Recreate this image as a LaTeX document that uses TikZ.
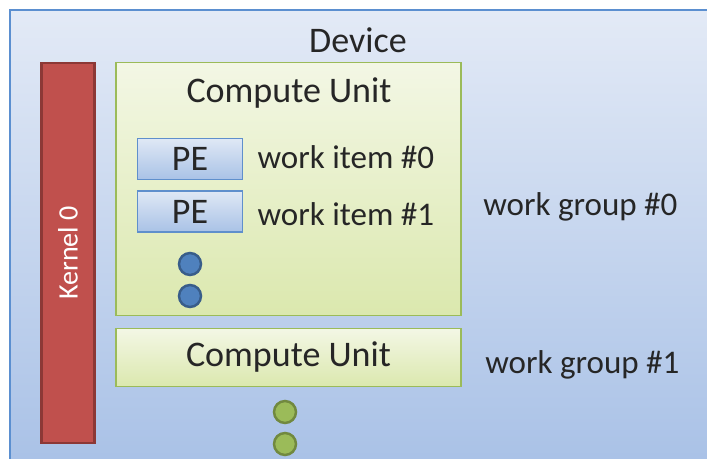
\documentclass[tikz,border=0pt]{standalone}
\usepackage{fontspec}
\setmainfont{Carlito}
\usetikzlibrary{positioning}
\definecolor{devtop}{HTML}{E3EAF6}
\definecolor{devbot}{HTML}{A7C0E6}
\definecolor{devline}{HTML}{5B8FD0}
\definecolor{kernelfill}{HTML}{C0504D}
\definecolor{kernelline}{HTML}{8C3836}
\definecolor{cutop}{HTML}{F3F7E5}
\definecolor{cubot}{HTML}{DBE8AE}
\definecolor{culine}{HTML}{9BBB59}
\definecolor{petop}{HTML}{DFE8F5}
\definecolor{pebot}{HTML}{A9C2E6}
\definecolor{peline}{HTML}{5F8FCC}
\definecolor{dotblue}{HTML}{4F81BD}
\definecolor{dotblueline}{HTML}{385D8A}
\definecolor{dotgreen}{HTML}{9BBB59}
\definecolor{dotgreenline}{HTML}{71893F}
\definecolor{ink}{HTML}{262626}

\begin{document}
\begin{tikzpicture}[x=0.02cm,y=-0.02cm,text=ink,
 big/.style={font=\fontsize{20.5}{24}\selectfont,inner sep=0pt},
 small/.style={font=\fontsize{18.8}{22}\selectfont,inner sep=0pt},
 kernel/.style={draw=kernelline,fill=kernelfill,line width=1.6pt,text=white,
   font=\fontsize{16}{19}\selectfont,rotate=90,minimum width=7.6cm,minimum height=1.06cm},
 cu/.style={draw=culine,line width=1pt,top color=cutop,bottom color=cubot,
   minimum width=6.9cm,inner sep=0pt},
 pe/.style={draw=peline,line width=.9pt,top color=petop,bottom color=pebot,
   minimum width=2.1cm,minimum height=.82cm,font=\fontsize{20.5}{24}\selectfont,inner sep=0pt},
 dot/.style={circle,line width=1.4pt,minimum size=.44cm,inner sep=0pt}]
\path[use as bounding box] (0,0) rectangle (707,459);
% device background runs off the right and bottom edges
\begin{scope}
  \clip (0,0) rectangle (707,459);
  \path[draw=devline,line width=1pt,top color=devtop,bottom color=devbot]
    (10,10) rectangle (730,480);
\end{scope}
\node[big] (device) at (358,40) {Device};
\node[kernel] (kernel) at (68,253) {Kernel 0};
\node[cu,minimum height=5.06cm] (cu0) at (288.5,189) {};
\node[big] (cu0title) at (289,93) {Compute Unit};
\node[pe] (pe0) at (190,159) {PE};
\node[pe] (pe1) at (190,211.5) {PE};
\node[small,right=.28cm of pe0,yshift=.04cm] (item0) {work item \#0};
\node[small,right=.28cm of pe1,yshift=-.06cm] (item1) {work item \#1};
\foreach \y [count=\i] in {264,296}
  \node[dot,fill=dotblue,draw=dotblueline] (bdot\i) at (190,\y) {};
\node[cu,minimum height=1.16cm,big] (cu1) at (288.5,357.5) {Compute Unit};
\foreach \y [count=\i] in {412,444}
  \node[dot,fill=dotgreen,draw=dotgreenline] (gdot\i) at (285,\y) {};
\node[small,anchor=west] (group0) at (483,207) {work group \#0};
\node[small,anchor=west] (group1) at (485,365) {work group \#1};
\end{tikzpicture}
\end{document}
